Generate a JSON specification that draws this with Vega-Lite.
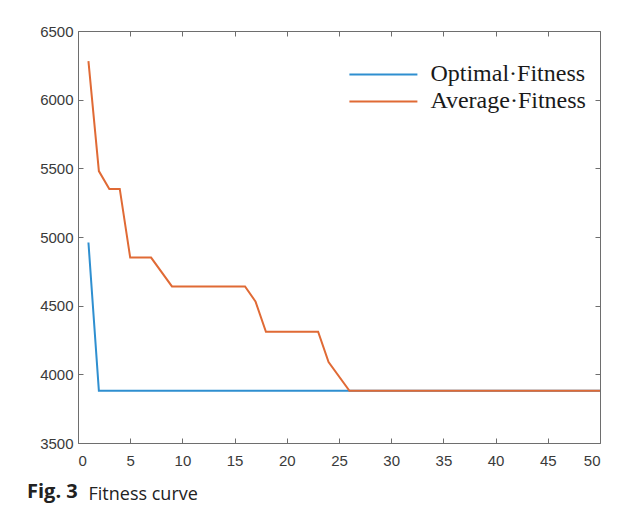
{
  "$schema": "https://vega.github.io/schema/vega-lite/v6.json",
  "width": 522,
  "height": 412,
  "autosize": {"type": "none"},
  "padding": {"left": 78, "top": 31, "right": 27, "bottom": 68},
  "background": "white",
  "title": {
    "text": "Fig. 3",
    "orient": "bottom",
    "anchor": "start",
    "frame": "group",
    "baseline": "alphabetic",
    "dx": -51,
    "dy": -5,
    "offset": 0,
    "font": "Open Sans",
    "fontSize": 20,
    "fontWeight": "bold",
    "color": "#222222"
  },
  "config": {
    "view": {"stroke": null},
    "font": "Liberation Sans"
  },
  "data": {
    "values": [
      {"gen": 1, "fit": 4960, "s": "Optimal·Fitness"},
      {"gen": 2, "fit": 3880, "s": "Optimal·Fitness"},
      {"gen": 26, "fit": 3880, "s": "Optimal·Fitness"},
      {"gen": 50, "fit": 3880, "s": "Optimal·Fitness"},
      {"gen": 1, "fit": 6280, "s": "Average·Fitness"},
      {"gen": 2, "fit": 5480, "s": "Average·Fitness"},
      {"gen": 3, "fit": 5350, "s": "Average·Fitness"},
      {"gen": 4, "fit": 5350, "s": "Average·Fitness"},
      {"gen": 5, "fit": 4850, "s": "Average·Fitness"},
      {"gen": 7, "fit": 4850, "s": "Average·Fitness"},
      {"gen": 9, "fit": 4640, "s": "Average·Fitness"},
      {"gen": 16, "fit": 4640, "s": "Average·Fitness"},
      {"gen": 17, "fit": 4530, "s": "Average·Fitness"},
      {"gen": 18, "fit": 4310, "s": "Average·Fitness"},
      {"gen": 23, "fit": 4310, "s": "Average·Fitness"},
      {"gen": 24, "fit": 4090, "s": "Average·Fitness"},
      {"gen": 26, "fit": 3880, "s": "Average·Fitness"},
      {"gen": 50, "fit": 3880, "s": "Average·Fitness"}
    ]
  },
  "layer": [
    {
      "mark": {"type": "line", "strokeWidth": 2},
      "encoding": {
        "x": {
          "field": "gen", "type": "quantitative",
          "scale": {"domain": [0, 50], "nice": false},
          "axis": {
            "orient": "bottom",
            "values": [0, 5, 10, 15, 20, 25, 30, 35, 40, 45, 50],
            "format": "d",
            "grid": false,
            "domainColor": "#6e6e6e",
            "tickColor": "#6e6e6e",
            "tickSize": -5,
            "labelPadding": 15,
            "labelFontSize": 15,
            "labelColor": "#3a3a3a",
            "labelFont": "Liberation Sans",
            "title": "Fitness curve",
            "titleFont": "Open Sans",
            "titleFontSize": 18,
            "titleFontWeight": "normal",
            "titleColor": "#222222",
            "titleAnchor": "start",
            "titleAlign": "left",
            "titleBaseline": "alphabetic",
            "titleX": 10,
            "titleY": 56
          }
        },
        "y": {
          "field": "fit", "type": "quantitative",
          "scale": {"domain": [3500, 6500], "nice": false, "zero": false},
          "axis": {
            "orient": "left",
            "values": [3500, 4000, 4500, 5000, 5500, 6000, 6500],
            "format": "d",
            "grid": false,
            "domainColor": "#6e6e6e",
            "tickColor": "#6e6e6e",
            "tickSize": -5,
            "labelPadding": 10,
            "labelFontSize": 15,
            "labelColor": "#3a3a3a",
            "labelFont": "Liberation Sans",
            "title": null
          }
        },
        "color": {
          "field": "s", "type": "nominal",
          "scale": {"domain": ["Optimal·Fitness", "Average·Fitness"], "range": ["#2f8fd0", "#e06a35"]},
          "legend": {
            "title": null,
            "orient": "none",
            "legendX": 290.4,
            "legendY": 28.4,
            "padding": 0,
            "symbolType": "M-2.5,0H2.5",
            "symbolSize": 740,
            "symbolStrokeWidth": 2,
            "symbolFillColor": "transparent",
            "labelFont": "Liberation Serif",
            "labelFontSize": 24,
            "labelColor": "#1a1a1a",
            "labelOffset": 32,
            "rowPadding": 0
          }
        }
      }
    },
    {
      "mark": {"type": "rule", "strokeWidth": 0},
      "encoding": {
        "x": {
          "datum": 0, "type": "quantitative",
          "axis": {
            "orient": "top",
            "values": [0, 5, 10, 15, 20, 25, 30, 35, 40, 45, 50],
            "grid": false, "labels": false, "title": null,
            "domainColor": "#6e6e6e", "tickColor": "#6e6e6e", "tickSize": -5
          }
        },
        "y": {
          "datum": 3500, "type": "quantitative",
          "axis": {
            "orient": "right",
            "values": [3500, 4000, 4500, 5000, 5500, 6000, 6500],
            "grid": false, "labels": false, "title": null,
            "domainColor": "#6e6e6e", "tickColor": "#6e6e6e", "tickSize": -5
          }
        }
      }
    }
  ],
  "resolve": {"axis": {"x": "independent", "y": "independent"}}
}
